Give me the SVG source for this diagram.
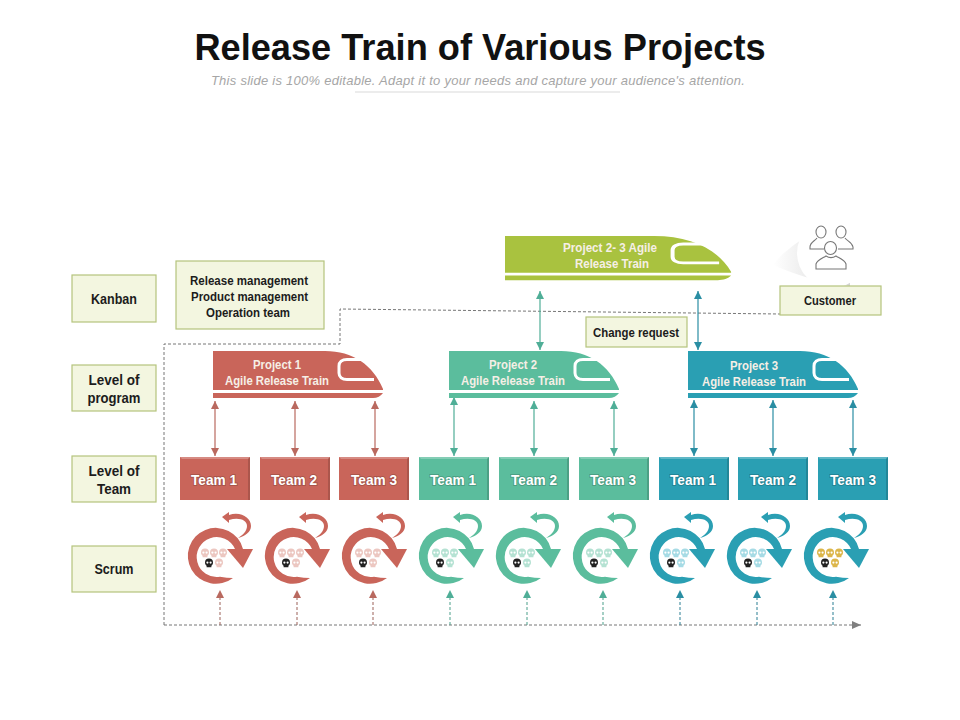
<svg xmlns="http://www.w3.org/2000/svg" width="960" height="720" viewBox="0 0 960 720">
<style>
text{font-family:"Liberation Sans",Arial,sans-serif;font-weight:700;text-anchor:middle}
.title{font-size:36.2px;fill:#111}
.sub{font-weight:400;font-style:italic;font-size:13px;fill:#a6a6a6;letter-spacing:.26px}
.lab{font-size:14.5px;fill:#1c1c1c}
.lab2{font-size:12.5px;fill:#1c1c1c}
.box{fill:#f3f6e0;stroke:#b5c47c;stroke-width:1.2}
.tr{font-size:12.5px;fill:#f6efe6}
.tm{font-size:15px;fill:#fff;paint-order:stroke;stroke:#0000002e;stroke-width:2px}
.red{fill:#c9655a;color:#c9655a}.grn{fill:#5bbd9d;color:#5bbd9d}.tea{fill:#2a9fb3;color:#2a9fb3}.lim{fill:#a9c23f;color:#a9c23f}
.lnr{stroke:#b9695f;stroke-width:1.2;fill:none;marker-start:url(#mr);marker-end:url(#mr)}
.lng{stroke:#4fae97;stroke-width:1.2;fill:none;marker-start:url(#mg);marker-end:url(#mg)}
.lnt{stroke:#2a8ea3;stroke-width:1.2;fill:none;marker-start:url(#mt);marker-end:url(#mt)}
.dr{stroke:#9b6059;stroke-width:1;stroke-dasharray:3 2;fill:none;marker-end:url(#mr)}
.dg{stroke:#4a9f8a;stroke-width:1;stroke-dasharray:3 2;fill:none;marker-end:url(#mg)}
.dt{stroke:#2a7f93;stroke-width:1;stroke-dasharray:3 2;fill:none;marker-end:url(#mt)}
.dash{stroke:#666;stroke-width:.9;stroke-dasharray:3 2;fill:none}
.ic{fill:none;stroke:#777;stroke-width:1.1}
</style>
<defs>
<marker id="mr" markerWidth="9" markerHeight="8" refX="8" refY="4" orient="auto-start-reverse" markerUnits="userSpaceOnUse"><path d="M0 0L8 4L0 8z" fill="#b9695f"/></marker>
<marker id="mg" markerWidth="9" markerHeight="8" refX="8" refY="4" orient="auto-start-reverse" markerUnits="userSpaceOnUse"><path d="M0 0L8 4L0 8z" fill="#4fae97"/></marker>
<marker id="mt" markerWidth="9" markerHeight="8" refX="8" refY="4" orient="auto-start-reverse" markerUnits="userSpaceOnUse"><path d="M0 0L8 4L0 8z" fill="#2a8ea3"/></marker>
<marker id="mk" markerWidth="10" markerHeight="8" refX="9" refY="4" orient="auto" markerUnits="userSpaceOnUse"><path d="M0 0L9 4L0 8z" fill="#808080"/></marker>
<linearGradient id="sh" x1="1" y1="0" x2="0" y2="0"><stop offset="0" stop-color="#d4d4d4"/><stop offset="1" stop-color="#fff"/></linearGradient>
<g id="train">
<path fill="currentColor" d="M0 0H112C140 0 160 14 170 38V39H0zM0 42H170C168 45 164 47 160 47H0z"/>
<path d="M150 8.500H134C129 8.500 126 11 126 15V22C126 26 129 28.500 134 28.500H161" fill="none" stroke="#fff" stroke-width="3"/>
</g>
<path id="skull" d="M-4 -.5a4 4 0 1 1 8 0c0 1.800-.8 2.600-1.600 3.200v1.600h-4.800v-1.600c-.8-.6-1.600-1.400-1.600-3.200z"/>
<g id="skeyes"><circle cx="-1.600" cy="-.4" r="1.100" fill="#fff"/><circle cx="1.600" cy="-.4" r="1.100" fill="#fff"/></g>
<g id="cycle">
<path fill="currentColor" d="M44 48A28 28 0 1 1 54 19H46A20 20 0 1 0 31 46.800Q38 48 44 48z"/>
<path fill="currentColor" d="M38 19H64L54 38z"/>
<path fill="currentColor" d="M40 -15C52 -19 62 -12 62 -4C62 2 56 6 49 8C54 5 58 1 58 -4C58 -10 50 -13 40 -10z"/>
<path fill="currentColor" d="M33 -13L40 -18V-7z"/>
</g>
<g id="skulls">
<use href="#skull" x="16" y="23"/><use href="#skeyes" x="16" y="23"/>
<use href="#skull" x="25" y="23"/><use href="#skeyes" x="25" y="23"/>
<use href="#skull" x="34" y="23"/><use href="#skeyes" x="34" y="23"/>
<use href="#skull" x="30" y="33"/><use href="#skeyes" x="30" y="33"/>
<g fill="#222"><use href="#skull" x="20" y="33"/></g><use href="#skeyes" x="20" y="33"/>
</g>
<g id="teambox"><path fill="currentColor" d="M0 0H70V43H0z"/><path fill="#fff" opacity=".25" d="M0 0H70L68 2H2z"/><path fill="#000" opacity=".15" d="M70 0V43H68V2z"/></g>
</defs>
<rect width="960" height="720" fill="#fff"/>
<g id="heading">
<text class="title" x="480" y="60">Release Train of Various Projects</text>
<text class="sub" x="478" y="85">This slide is 100% editable. Adapt it to your needs and capture your audience's attention.</text>
<path d="M355 92H620" stroke="#cfcfcf" stroke-width=".8"/>
</g>
<g id="connectors">
<path class="dash" d="M164 625V344H340V309L780 314"/>
<path class="dash" d="M164 625H861" marker-end="url(#mk)"/>
<path class="lnr" d="M215 401V456"/><path class="lnr" d="M295 401V456"/><path class="lnr" d="M375 401V456"/>
<path class="lng" d="M454 397V456"/><path class="lng" d="M534 401V456"/><path class="lng" d="M614 401V456"/>
<path class="lnt" d="M694 400V456"/><path class="lnt" d="M773 400V456"/><path class="lnt" d="M853 400V456"/>
<path class="lng" d="M540 291V350"/>
<path class="lnt" d="M698 291V350"/>
<path class="dr" d="M220 625V590"/><path class="dr" d="M297 625V590"/><path class="dr" d="M373 625V590"/>
<path class="dg" d="M450 625V590"/><path class="dg" d="M527 625V590"/><path class="dg" d="M603 625V590"/>
<path class="dt" d="M680 625V590"/><path class="dt" d="M757 625V590"/><path class="dt" d="M833 625V590"/>
</g>
<g id="node-kanban"><rect class="box" x="72" y="275" width="84" height="47"/><text class="lab" x="114" y="304" textLength="46" lengthAdjust="spacingAndGlyphs">Kanban</text></g>
<g id="node-program"><rect class="box" x="72" y="365" width="84" height="46"/><text class="lab" x="114" y="385" textLength="51" lengthAdjust="spacingAndGlyphs">Level of</text><text class="lab" x="114" y="403" textLength="53" lengthAdjust="spacingAndGlyphs">program</text></g>
<g id="node-team"><rect class="box" x="72" y="456" width="84" height="46"/><text class="lab" x="114" y="476" textLength="51" lengthAdjust="spacingAndGlyphs">Level of</text><text class="lab" x="114" y="494" textLength="34" lengthAdjust="spacingAndGlyphs">Team</text></g>
<g id="node-scrum"><rect class="box" x="72" y="546" width="84" height="46"/><text class="lab" x="114" y="574" textLength="39" lengthAdjust="spacingAndGlyphs">Scrum</text></g>
<g id="node-release"><rect class="box" x="176" y="261" width="148" height="68"/><text class="lab2" x="249" y="285" textLength="118" lengthAdjust="spacingAndGlyphs">Release management</text><text class="lab2" x="249.500" y="301" textLength="117" lengthAdjust="spacingAndGlyphs">Product management</text><text class="lab2" x="248" y="317" textLength="84" lengthAdjust="spacingAndGlyphs">Operation team</text></g>
<g id="node-change"><rect class="box" x="586" y="317" width="101" height="30"/><text class="lab2" x="636" y="337" textLength="86" lengthAdjust="spacingAndGlyphs">Change request</text></g>
<g id="node-customer">
<path fill="url(#sh)" d="M808 236C790 246 778 258 773 265C790 272 815 282 850 286L850 270z"/>
<circle cx="832" cy="253" r="35" fill="#fff"/>
<g class="ic"><ellipse cx="821" cy="232" rx="5" ry="6"/><ellipse cx="841" cy="232" rx="5" ry="6"/><ellipse cx="830.500" cy="248" rx="6" ry="6.500"/>
<path d="M817 238C815 241 810 242 810 247V249H824M845 238C847 241 852 242 853 247V249H838M816 269V264C817 260 823 258 826 256C829 258 833 258 836 256C839 258 845 260 846 264V269z"/></g>
<rect class="box" x="780" y="286" width="101" height="29"/><text class="lab2" x="830" y="305" textLength="52" lengthAdjust="spacingAndGlyphs">Customer</text>
</g>
<g id="train-top" class="lim"><g transform="translate(505 236) scale(1.33 .94)"><use href="#train"/></g><text class="tr" x="610" y="252" textLength="94" lengthAdjust="spacingAndGlyphs">Project 2- 3 Agile</text><text class="tr" x="612" y="268" textLength="74" lengthAdjust="spacingAndGlyphs">Release Train</text></g>
<g id="train-1" class="red"><use href="#train" x="213" y="351"/><text class="tr" x="277" y="369" textLength="48" lengthAdjust="spacingAndGlyphs">Project 1</text><text class="tr" x="277" y="385" textLength="104" lengthAdjust="spacingAndGlyphs">Agile Release Train</text></g>
<g id="train-2" class="grn"><use href="#train" x="449" y="351"/><text class="tr" x="513" y="369" textLength="48" lengthAdjust="spacingAndGlyphs">Project 2</text><text class="tr" x="513" y="385" textLength="104" lengthAdjust="spacingAndGlyphs">Agile Release Train</text></g>
<g id="train-3" class="tea"><use href="#train" x="688" y="351"/><text class="tr" x="754" y="370" textLength="48" lengthAdjust="spacingAndGlyphs">Project 3</text><text class="tr" x="754" y="386" textLength="104" lengthAdjust="spacingAndGlyphs">Agile Release Train</text></g>
<g id="team-r1" class="red"><use href="#teambox" x="180" y="457"/><text class="tm" x="214" y="485" textLength="46" lengthAdjust="spacingAndGlyphs">Team 1</text></g>
<g id="team-r2" class="red"><use href="#teambox" x="260" y="457"/><text class="tm" x="294" y="485" textLength="46" lengthAdjust="spacingAndGlyphs">Team 2</text></g>
<g id="team-r3" class="red"><use href="#teambox" x="339" y="457"/><text class="tm" x="374" y="485" textLength="46" lengthAdjust="spacingAndGlyphs">Team 3</text></g>
<g id="team-g1" class="grn"><use href="#teambox" x="419" y="457"/><text class="tm" x="453" y="485" textLength="46" lengthAdjust="spacingAndGlyphs">Team 1</text></g>
<g id="team-g2" class="grn"><use href="#teambox" x="499" y="457"/><text class="tm" x="534" y="485" textLength="46" lengthAdjust="spacingAndGlyphs">Team 2</text></g>
<g id="team-g3" class="grn"><use href="#teambox" x="579" y="457"/><text class="tm" x="613" y="485" textLength="46" lengthAdjust="spacingAndGlyphs">Team 3</text></g>
<g id="team-t1" class="tea"><use href="#teambox" x="659" y="457"/><text class="tm" x="693" y="485" textLength="46" lengthAdjust="spacingAndGlyphs">Team 1</text></g>
<g id="team-t2" class="tea"><use href="#teambox" x="738" y="457"/><text class="tm" x="773" y="485" textLength="46" lengthAdjust="spacingAndGlyphs">Team 2</text></g>
<g id="team-t3" class="tea"><use href="#teambox" x="818" y="457"/><text class="tm" x="853" y="485" textLength="46" lengthAdjust="spacingAndGlyphs">Team 3</text></g>
<g id="scrum-r1" class="red"><use href="#cycle" x="189" y="530"/><g fill="#ecc7c1"><use href="#skulls" x="189" y="530"/></g></g>
<g id="scrum-r2" class="red"><use href="#cycle" x="266" y="530"/><g fill="#ecc7c1"><use href="#skulls" x="266" y="530"/></g></g>
<g id="scrum-r3" class="red"><use href="#cycle" x="343" y="530"/><g fill="#ecc7c1"><use href="#skulls" x="343" y="530"/></g></g>
<g id="scrum-g1" class="grn"><use href="#cycle" x="420" y="530"/><g fill="#b5e2d3"><use href="#skulls" x="420" y="530"/></g></g>
<g id="scrum-g2" class="grn"><use href="#cycle" x="497" y="530"/><g fill="#b5e2d3"><use href="#skulls" x="497" y="530"/></g></g>
<g id="scrum-g3" class="grn"><use href="#cycle" x="574" y="530"/><g fill="#b5e2d3"><use href="#skulls" x="574" y="530"/></g></g>
<g id="scrum-t1" class="tea"><use href="#cycle" x="651" y="530"/><g fill="#a6dbe5"><use href="#skulls" x="651" y="530"/></g></g>
<g id="scrum-t2" class="tea"><use href="#cycle" x="728" y="530"/><g fill="#a6dbe5"><use href="#skulls" x="728" y="530"/></g></g>
<g id="scrum-t3" class="tea"><use href="#cycle" x="805" y="530"/><g fill="#dcb64a"><use href="#skulls" x="805" y="530"/></g></g>
</svg>
